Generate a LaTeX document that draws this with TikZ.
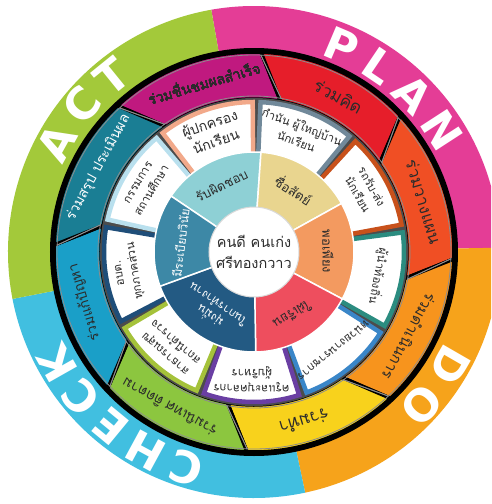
\documentclass[tikz,border=0pt]{standalone}
\usepackage{fontspec}
\newfontfamily\thai[Script=Thai]{Loma}
\newfontfamily\pdcafont{DejaVu Sans}
\definecolor{planc}{HTML}{E43D96}
\definecolor{doc}{HTML}{F6A31B}
\definecolor{checkc}{HTML}{41BFE0}
\definecolor{actc}{HTML}{A3C93A}
\definecolor{sA}{HTML}{C0197F}
\definecolor{sB}{HTML}{E61E2A}
\definecolor{sC}{HTML}{F04F24}
\definecolor{sD}{HTML}{F7941D}
\definecolor{sE}{HTML}{F8D21C}
\definecolor{sF}{HTML}{8CC63F}
\definecolor{sG}{HTML}{1A9FC8}
\definecolor{sH}{HTML}{1A7E94}
\definecolor{bA}{HTML}{F2A98A}
\definecolor{bB}{HTML}{71899A}
\definecolor{bC}{HTML}{C8511B}
\definecolor{bD}{HTML}{2B8C80}
\definecolor{bE}{HTML}{3A86C8}
\definecolor{bF}{HTML}{6A3FA3}
\definecolor{bG}{HTML}{A5C23A}
\definecolor{bH}{HTML}{1F4E79}
\definecolor{bI}{HTML}{B9E0EE}
\definecolor{iA}{HTML}{8ED0D5}
\definecolor{iB}{HTML}{E9D58F}
\definecolor{iC}{HTML}{F39A60}
\definecolor{iD}{HTML}{EE4E5E}
\definecolor{iE}{HTML}{235A83}
\definecolor{iF}{HTML}{3D88A6}
\definecolor{txt}{HTML}{2B2B2B}
\newcommand\flatsector[5]{%
  \path[#1] (#2:#4) arc[start angle=#2,end angle=#3,radius=#4] -- (#3:#5) arc[start angle=#3,end angle=#2,radius=#5] -- cycle;}
\newcommand\tiltsector[6]{%
  \path[#1] ({#2-#6}:#4) arc[start angle={#2-#6},end angle={#3-#6},radius=#4] -- ({#3+#6}:#5) arc[start angle={#3+#6},end angle={#2+#6},radius=#5] -- cycle;}
\tikzset{
  pdcaletter/.style={font=\pdcafont\bfseries\fontsize{44}{44}\selectfont, text=white, inner sep=0pt},
  ringlabel/.style={font=\thai\fontsize{14}{16}\selectfont, text=txt, inner sep=0pt, align=center},
  boxlabel/.style={font=\thai\fontsize{11.5}{16}\selectfont, text=txt, inner sep=0pt, align=center},
  innerlabel/.style={font=\thai\fontsize{13}{15}\selectfont, text=txt, inner sep=0pt, align=center},
  blackseg/.style={fill=#1, draw=black, line width=3.5pt, line join=round},
  bevel/.style={draw=black!45, line width=0.8pt, line join=round},
  whitebox/.style={fill=white, draw=#1, line width=4.5pt, line join=miter},
  innerseg/.style={fill=#1, draw=white, line width=1.5pt}
}
\begin{document}
\begin{tikzpicture}[x=1pt,y=1pt]
\useasboundingbox (-254,-252) rectangle (237,252);
\clip (-254,-252) rectangle (237,252);
\fill[white] (-254,-252) rectangle (237,252);
% PDCA ring
\fill[planc] (0,0) -- (100:246) arc[start angle=100,end angle=1,radius=246] -- cycle;
\fill[doc] (0,0) -- (1:246) arc[start angle=1,end angle=-78,radius=246] -- cycle;
\fill[checkc] (0,0) -- (-78:246) arc[start angle=-78,end angle=-169,radius=246] -- cycle;
\fill[actc] (0,0) -- (191:246) arc[start angle=191,end angle=100,radius=246] -- cycle;
% PDCA words
\foreach \ch/\ang in {P/67,L/56,A/44.8,N/33}
  \node[pdcaletter, rotate=\ang-90] (plan\ch) at (\ang:224) {\ch};
\foreach \ch/\ang in {D/-30,O/-42.5}
  \node[pdcaletter, rotate=\ang-90] (do\ch) at (\ang:227) {\ch};
\foreach \ch/\ang/\nm in {C/-107.5/c1,H/-118.5/h,E/-129.5/e,C/-140/c2,K/-150.5/k}
  \node[pdcaletter, rotate=\ang-90] (check\nm) at (\ang:226) {\ch};
\foreach \ch/\ang in {A/151,C/139.5,T/129}
  \node[pdcaletter, rotate=\ang-90] (act\ch) at (\ang:226) {\ch};
% black ring
\fill[black] (0,0) circle[radius=204];
\tiltsector{blackseg=sA}{129}{84}{153}{200}{4}
\tiltsector{blackseg=sB}{84}{39}{153}{200}{4}
\tiltsector{blackseg=sC}{39}{-6}{153}{200}{4}
\tiltsector{blackseg=sD}{-6}{-51}{153}{200}{4}
\tiltsector{blackseg=sE}{-51}{-96}{153}{200}{4}
\tiltsector{blackseg=sF}{-96}{-141}{153}{200}{4}
\tiltsector{blackseg=sG}{-141}{-186}{153}{200}{4}
\tiltsector{blackseg=sH}{174}{129}{153}{200}{4}
\foreach \a in {129,84,39,-6,-51,-96,-141,-186}
  \tiltsector{bevel}{\a}{\a-45}{156}{197}{4}
\node[ringlabel, rotate=16.5] (r1) at (106.5:177) {ร่วมชื่นชมผลสำเร็จ};
\node[ringlabel, rotate=-28.5, font=\thai\fontsize{17}{17}\selectfont] (r2) at (61.5:177) {ร่วมคิด};
\node[ringlabel, rotate=-73.5, font=\thai\fontsize{16.5}{16.5}\selectfont] (r3) at (16.5:177) {ร่วมวางแผน};
\node[ringlabel, rotate=-118.5, font=\thai\fontsize{15}{15}\selectfont] (r4) at (-28.5:177) {ร่วมดำเนินการ};
\node[ringlabel, rotate=-163.5, font=\thai\fontsize{17}{17}\selectfont] (r5) at (-73.5:177) {ร่วมทำ};
\node[ringlabel, rotate=-208.5] (r6) at (-118.5:177) {ร่วมนิเทศ ติดตาม};
\node[ringlabel, rotate=-253.5] (r7) at (-163.5:177) {ร่วมแก้ปัญหา};
\node[ringlabel, rotate=61.5, text=white] (r8) at (151.5:177) {ร่วมสรุป ประเมินผล};
% white boxes
\fill[black!70] (0,0) circle[radius=154];
\flatsector{whitebox=bA}{127.5}{90.5}{95}{150}
\flatsector{whitebox=bB}{87.5}{50.5}{95}{150}
\flatsector{whitebox=bC}{47.5}{10.5}{95}{150}
\flatsector{whitebox=bD}{7.5}{-29.5}{95}{150}
\flatsector{whitebox=bE}{-32.5}{-69.5}{95}{150}
\flatsector{whitebox=bF}{-72.5}{-109.5}{95}{150}
\flatsector{whitebox=bG}{-112.5}{-149.5}{95}{150}
\flatsector{whitebox=bH}{-152.5}{-189.5}{95}{150}
\flatsector{whitebox=bI}{167.5}{130.5}{95}{150}
\node[boxlabel, rotate=19, font=\thai\fontsize{14}{19}\selectfont] (w1) at (109:127) {ผู้ปกครอง\\นักเรียน};
\node[boxlabel, rotate=-21] (w2) at (69:127) {กำนัน ผู้ใหญ่บ้าน\\นักเรียน};
\node[boxlabel, rotate=-61] (w3) at (29:127) {รถรับ-ส่ง\\นักเรียน};
\node[boxlabel, rotate=-101] (w4) at (-11:127) {ผู้นำท้องถิ่น};
\node[boxlabel, rotate=-141] (w5) at (-51:127) {หน่วยงานราชการ};
\node[boxlabel, rotate=-181] (w6) at (-91:127) {ครูและบุคลากร\\ผู้บริหาร};
\node[boxlabel, rotate=-221] (w7) at (-131:127) {สาธารณสุข\\สถานีตำรวจ};
\node[boxlabel, rotate=-261] (w8) at (-171:127) {อบต.\\ทุกภาคส่วน};
\node[boxlabel, rotate=59] (w9) at (149:127) {กรรมการ\\สถานศึกษา};
% inner ring
\flatsector{innerseg=iA}{146}{86}{44}{100}
\flatsector{innerseg=iB}{86}{29}{44}{100}
\flatsector{innerseg=iC}{29}{-28}{44}{100}
\flatsector{innerseg=iD}{-28}{-89}{44}{100}
\flatsector{innerseg=iE}{-89}{-160}{44}{100}
\flatsector{innerseg=iF}{200}{146}{44}{100}
\node[innerlabel, rotate=26] (i1) at (116:74) {รับผิดชอบ};
\node[innerlabel, rotate=-32.5] (i2) at (57.5:74) {ซื่อสัตย์};
\node[innerlabel, rotate=-89.5] (i3) at (0.5:74) {พอเพียง};
\node[innerlabel, rotate=-148.5] (i4) at (-58.5:74) {ใฝ่เรียน};
\node[innerlabel, rotate=-214.5, text=white, font=\thai\fontsize{11.5}{14}\selectfont] (i5) at (-124.5:72) {มุ่งมั่น\\ในการทำงาน};
\node[innerlabel, rotate=83, text=white, font=\thai\fontsize{12}{14}\selectfont] (i6) at (173:74) {มีระเบียบวินัย};
% center
\fill[white, draw=black!15, line width=1pt] (0,0) circle[radius=45];
\node[font=\thai\fontsize{14.5}{21}\selectfont, text=txt, align=center, inner sep=0pt] (center) at (0,0) {คนดี คนเก่ง\\ศรีทองกวาว};
\end{tikzpicture}
\end{document}
